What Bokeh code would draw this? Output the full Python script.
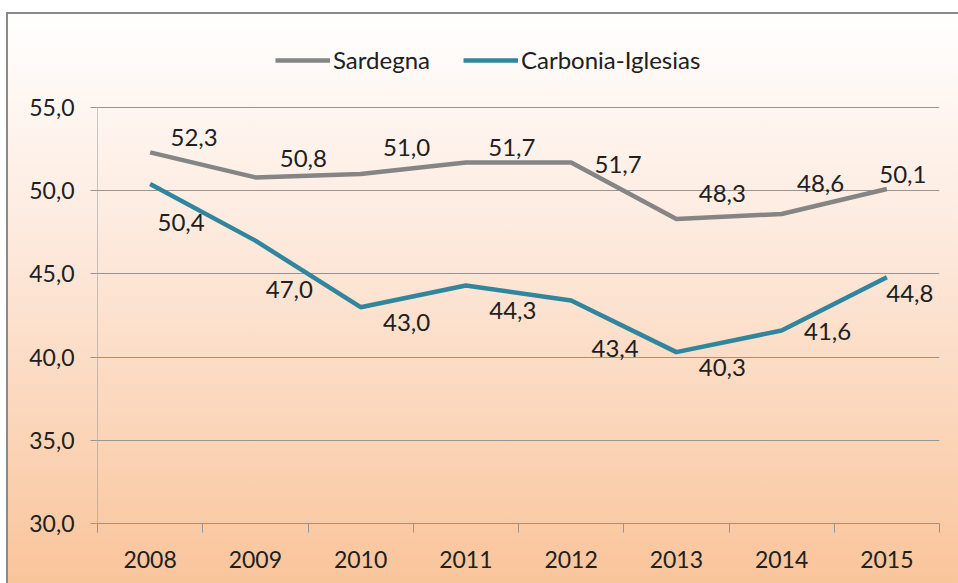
from bokeh.plotting import figure
from bokeh.models import (ColumnDataSource, Range1d, FixedTicker, Legend, LegendItem)
from bokeh.core.properties import value
from bokeh.embed import file_html
from bokeh.resources import INLINE

# ---- data ----
years = [2008, 2009, 2010, 2011, 2012, 2013, 2014, 2015]
sardegna = [52.3, 50.8, 51.0, 51.7, 51.7, 48.3, 48.6, 50.1]
carbonia = [50.4, 47.0, 43.0, 44.3, 43.4, 40.3, 41.6, 44.8]
series_names = ["Sardegna", "Carbonia-Iglesias"]
y_ticks = [30, 35, 40, 45, 50, 55]
y_tick_labels = ["30,0", "35,0", "40,0", "45,0", "50,0", "55,0"]

# label placement (screen px offsets from each point)
sard_dx = [44, 48, 46, 46, 47, 46, 39, 16]
sard_dy = [-15, -19, -27, -15, 2, -25, -30, -15]
carb_dx = [31, 34, 46, 47, 44, 46, 46, 23]
carb_dy = [38, 49, 15, 25, 48, 15, 1, 16]

FONT = "Lato"
TXT = "#202020"
GRID = "#959595"
GRAY = "#858585"
TEAL = "#31859C"

def fmt(v):
    return f"{v:.1f}".replace(".", ",")

# layout: the plotted band (30..55) spans 416 px; the frame extends 107 px above it
# so that the legend (drawn inside the frame) can sit in the header area.
BAND_PX, TOP_PX = 416, 107
y_lo, y_hi = y_ticks[0], y_ticks[-1]
y_top = y_hi + TOP_PX * (y_hi - y_lo) / BAND_PX

p = figure(width=958, height=583, output_backend="svg", toolbar_location=None,
           x_range=Range1d(years[0] - 0.5, years[-1] + 0.5), y_range=Range1d(y_lo, y_top),
           min_border_left=97, min_border_right=19, min_border_top=0,
           min_border_bottom=60)
p.background_fill_color = None
p.border_fill_color = None
p.outline_line_color = None
p.styles = {
    "background-image": ("linear-gradient(to right, #8a8a8a 2px, transparent 2px), "
                         "linear-gradient(to bottom, #8a8a8a 2px, transparent 2px), "
                         "linear-gradient(to bottom, #ffffff 0%, #fde9dc 40%, #f9c398 100%)"),
    "background-position": "6px 12px, 6px 12px, 6px 12px",
    "background-size": "100% 100%, 100% 100%, 100% 100%",
    "background-repeat": "no-repeat",
}

# axes
xa = p.xaxis[0]
xa.ticker = FixedTicker(ticks=years, minor_ticks=[y - 0.5 for y in years] + [years[-1] + 0.5])
xa.major_tick_out = 0
xa.major_tick_in = 0
xa.minor_tick_out = 9
xa.minor_tick_in = 0
xa.minor_tick_line_color = GRID
xa.axis_line_color = GRID
xa.major_label_text_font = FONT
xa.major_label_text_font_size = "23px"
xa.major_label_text_color = TXT
xa.major_label_standoff = 18

ya = p.yaxis[0]
ya.ticker = FixedTicker(ticks=y_ticks)
ya.major_label_overrides = {t: l for t, l in zip(y_ticks, y_tick_labels)}
ya.major_tick_out = 7
ya.major_tick_in = 0
ya.minor_tick_out = 0
ya.minor_tick_in = 0
ya.major_tick_line_color = GRID
ya.axis_line_color = None
ya.major_label_text_font = FONT
ya.major_label_text_font_size = "23px"
ya.major_label_text_color = TXT
ya.major_label_standoff = 16

# visible y axis line only over the value band
p.segment(x0=[years[0] - 0.5], y0=[y_lo], x1=[years[0] - 0.5], y1=[y_hi],
          line_color=GRID, line_width=1)

p.xgrid.visible = False
p.ygrid.ticker = FixedTicker(ticks=y_ticks)
p.ygrid.grid_line_color = GRID
p.ygrid.grid_line_width = 1

src = ColumnDataSource(dict(x=years, s=sardegna, c=carbonia,
                            sl=[fmt(v) for v in sardegna], cl=[fmt(v) for v in carbonia],
                            sdx=sard_dx, sdy=sard_dy, cdx=carb_dx, cdy=carb_dy))

r1 = p.line("x", "s", source=src, line_color=GRAY, line_width=4.5)
r2 = p.line("x", "c", source=src, line_color=TEAL, line_width=4.5)

p.text("x", "s", text="sl", source=src, x_offset="sdx", y_offset="sdy",
       text_font=value(FONT), text_font_size="24px", text_color=TXT,
       text_align="center", text_baseline="middle")
p.text("x", "c", text="cl", source=src, x_offset="cdx", y_offset="cdy",
       text_font=value(FONT), text_font_size="24px", text_color=TXT,
       text_align="center", text_baseline="middle")

legend = Legend(items=[LegendItem(label=series_names[0], renderers=[r1]),
                       LegendItem(label=series_names[1], renderers=[r2])],
                orientation="horizontal", location=(178, 449),
                glyph_width=55, glyph_height=20, label_standoff=3, spacing=33,
                padding=0, margin=0, border_line_color=None,
                background_fill_alpha=0,
                label_text_font=FONT, label_text_font_size="24px",
                label_text_color=TXT)
p.add_layout(legend, "center")

open("out.html", "w").write(file_html(p, INLINE))
